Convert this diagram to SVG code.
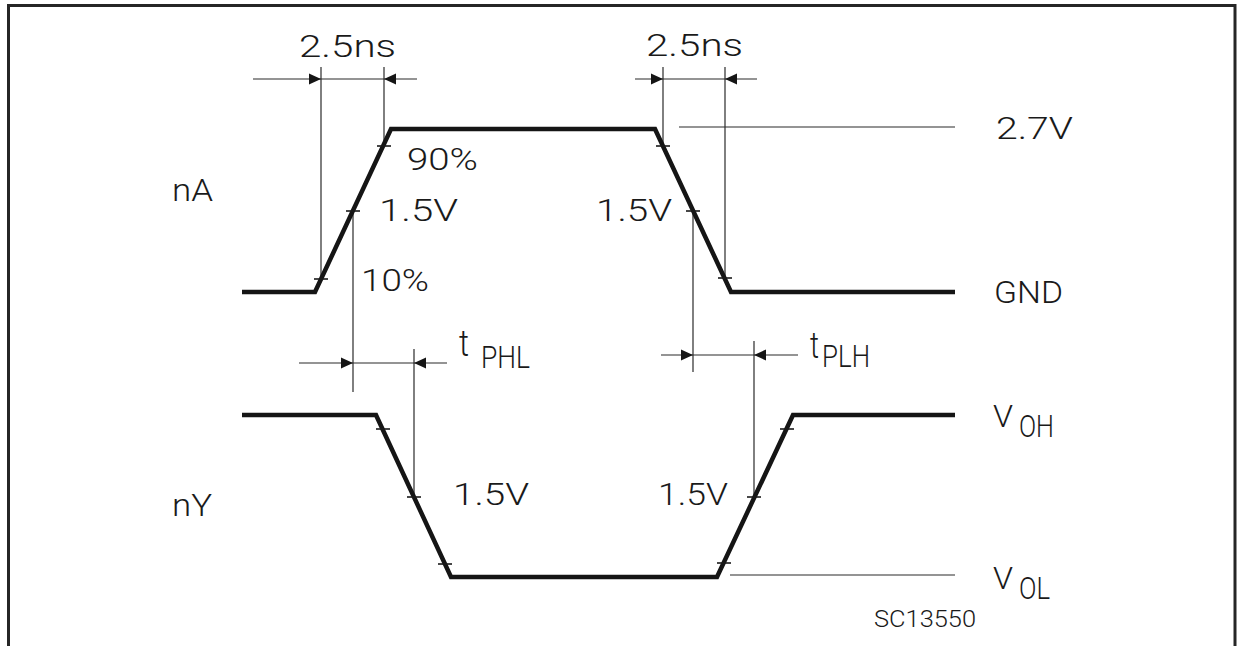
<svg xmlns="http://www.w3.org/2000/svg" width="1237" height="646" viewBox="0 0 1237 646">
<style>
.wave{fill:none;stroke:#151515;stroke-width:4.5;stroke-linejoin:miter}
.tick{stroke:#1a1a1a;stroke-width:1.6}
.dim{fill:none;stroke:#2a2a2a;stroke-width:1.2}
.arr{fill:#151515}
.lbl{font-family:Roboto,"Liberation Sans",sans-serif;font-weight:300;font-size:30.5px;fill:#1a1a1a}
.small{font-size:24px}
.tt{font-size:36px}
</style>
<defs>
<path id="arrR" d="M0,0 L-12,-5.5 L-12,5.5 Z"/>
<path id="arrL" d="M0,0 L12,-5.5 L12,5.5 Z"/>
</defs>
<rect x="8.5" y="5.5" width="1226.5" height="700" fill="none" stroke="#262626" stroke-width="3"/>

<g id="connectors">
<line class="dim" x1="253" y1="79" x2="417" y2="79"/>
<line class="dim" x1="321" y1="67" x2="321" y2="279"/>
<line class="dim" x1="384" y1="67" x2="384" y2="146"/>
<use href="#arrR" class="arr" x="321" y="79"/>
<use href="#arrL" class="arr" x="384" y="79"/>
<line class="dim" x1="635" y1="79" x2="757" y2="79"/>
<line class="dim" x1="663" y1="67" x2="663" y2="146"/>
<line class="dim" x1="725" y1="67" x2="725" y2="278"/>
<use href="#arrR" class="arr" x="663" y="79"/>
<use href="#arrL" class="arr" x="725" y="79"/>
<line class="dim" x1="679" y1="127" x2="955" y2="127"/>
<line class="dim" x1="299" y1="363" x2="447" y2="363"/>
<line class="dim" x1="353" y1="211" x2="353" y2="392"/>
<line class="dim" x1="414" y1="349" x2="414" y2="497"/>
<use href="#arrR" class="arr" x="353" y="363"/>
<use href="#arrL" class="arr" x="414" y="363"/>
<line class="dim" x1="661" y1="355" x2="798" y2="355"/>
<line class="dim" x1="693" y1="211" x2="693" y2="372"/>
<line class="dim" x1="754" y1="341" x2="754" y2="497"/>
<use href="#arrR" class="arr" x="693" y="355"/>
<use href="#arrL" class="arr" x="754" y="355"/>
<line class="dim" x1="730" y1="575" x2="955" y2="575"/>
</g>

<g id="wave-nA">
<path class="wave" d="M242,292 H315 L391,129 H655 L731,292 H955"/>
<line class="tick" x1="314" y1="279" x2="328" y2="279"/>
<line class="tick" x1="346" y1="211" x2="360" y2="211"/>
<line class="tick" x1="377" y1="146" x2="391" y2="146"/>
<line class="tick" x1="656" y1="146" x2="670" y2="146"/>
<line class="tick" x1="686" y1="211" x2="700" y2="211"/>
<line class="tick" x1="718" y1="278" x2="732" y2="278"/>
<text class="lbl" x="172" y="201" textLength="41" lengthAdjust="spacingAndGlyphs">nA</text>
<text class="lbl" x="407" y="170" textLength="71" lengthAdjust="spacingAndGlyphs">90%</text>
<text class="lbl" x="379" y="221" textLength="79" lengthAdjust="spacingAndGlyphs">1.5V</text>
<text class="lbl" x="361" y="291" textLength="68" lengthAdjust="spacingAndGlyphs">10%</text>
<text class="lbl" x="596" y="221" textLength="76" lengthAdjust="spacingAndGlyphs">1.5V</text>
<text class="lbl" x="996" y="139" textLength="77" lengthAdjust="spacingAndGlyphs">2.7V</text>
<text class="lbl" x="994" y="303" textLength="69" lengthAdjust="spacingAndGlyphs">GND</text>
</g>

<g id="dim-labels">
<text class="lbl" x="299" y="57" textLength="97" lengthAdjust="spacingAndGlyphs">2.5ns</text>
<text class="lbl" x="646" y="56" textLength="97" lengthAdjust="spacingAndGlyphs">2.5ns</text>
<text class="lbl tt" x="459" y="356" textLength="10" lengthAdjust="spacingAndGlyphs">t</text>
<text class="lbl" x="481" y="368" textLength="49" lengthAdjust="spacingAndGlyphs">PHL</text>
<text class="lbl tt" x="810" y="358" textLength="9" lengthAdjust="spacingAndGlyphs">t</text>
<text class="lbl" x="822" y="367" textLength="48" lengthAdjust="spacingAndGlyphs">PLH</text>
</g>

<g id="wave-nY">
<path class="wave" d="M242,415 H376 L451,577 H717 L793,415 H955"/>
<line class="tick" x1="376" y1="429" x2="390" y2="429"/>
<line class="tick" x1="407" y1="497" x2="421" y2="497"/>
<line class="tick" x1="438" y1="564" x2="452" y2="564"/>
<line class="tick" x1="717" y1="563" x2="731" y2="563"/>
<line class="tick" x1="747" y1="497" x2="761" y2="497"/>
<line class="tick" x1="780" y1="429" x2="794" y2="429"/>
<text class="lbl" x="172" y="516" textLength="40" lengthAdjust="spacingAndGlyphs">nY</text>
<text class="lbl" x="453" y="505" textLength="76" lengthAdjust="spacingAndGlyphs">1.5V</text>
<text class="lbl" x="658" y="505" textLength="70" lengthAdjust="spacingAndGlyphs">1.5V</text>
<text class="lbl" x="993" y="427" textLength="20" lengthAdjust="spacingAndGlyphs">V</text>
<text class="lbl" x="1019" y="437" textLength="35" lengthAdjust="spacingAndGlyphs">OH</text>
<text class="lbl" x="993" y="589" textLength="20" lengthAdjust="spacingAndGlyphs">V</text>
<text class="lbl" x="1019" y="599" textLength="31" lengthAdjust="spacingAndGlyphs">OL</text>
</g>

<g id="figure-id">
<text class="lbl small" x="874" y="627" textLength="102" lengthAdjust="spacingAndGlyphs">SC13550</text>
</g>
</svg>
